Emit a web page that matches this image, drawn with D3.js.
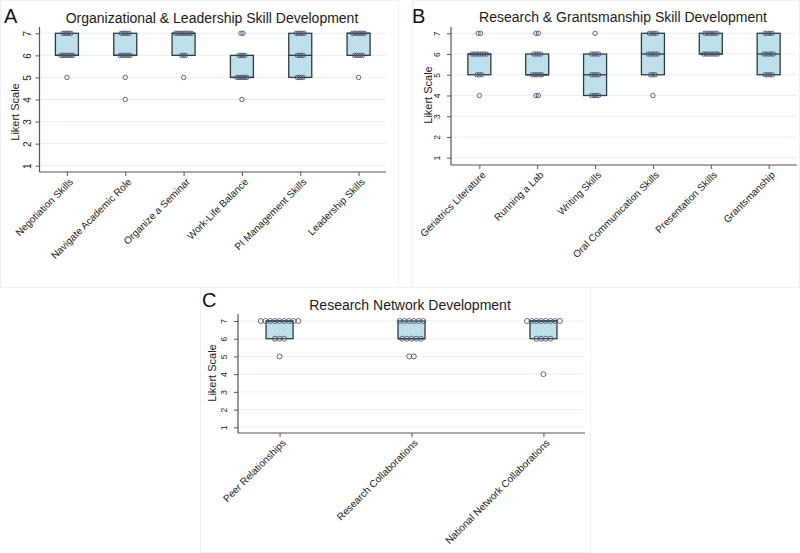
<!DOCTYPE html>
<html>
<head>
<meta charset="utf-8">
<script src="https://cdn.jsdelivr.net/npm/d3@7"></script>
<style>
  body { margin: 0; background: #fff; }
  svg { display: block; font-family: "Liberation Sans", Arial, sans-serif; }
</style>
</head>
<body>
<svg id="chart" width="800" height="553"></svg>
<script>
// Likert levels on the y axis
var levels = [1, 2, 3, 4, 5, 6, 7];

// counts of answers at Likert 1..7 for each item
var categoriesA = ["Negotiation Skills", "Navigate Academic Role", "Organize a Seminar",
    "Work-Life Balance", "PI Management Skills", "Leadership Skills"];
var countsA = [
    [0, 0, 0, 0, 1, 7, 5],
    [0, 0, 0, 1, 1, 6, 5],
    [0, 0, 0, 0, 1, 3, 9],
    [0, 0, 0, 1, 6, 4, 2],
    [0, 0, 0, 0, 4, 4, 5],
    [0, 0, 0, 0, 1, 5, 7]
];

var categoriesB = ["Geriatrics Literature", "Running a Lab", "Writing Skills",
    "Oral Communication Skills", "Presentation Skills", "Grantsmanship"];
var countsB = [
    [0, 0, 0, 1, 3, 7, 2],
    [0, 0, 0, 2, 5, 4, 2],
    [0, 0, 0, 4, 4, 4, 1],
    [0, 0, 0, 1, 3, 5, 4],
    [0, 0, 0, 0, 0, 7, 6],
    [0, 0, 0, 0, 4, 5, 4]
];

var categoriesC = ["Peer Relationships", "Research Collaborations", "National Network Collaborations"];
var countsC = [
    [0, 0, 0, 0, 1, 3, 9],
    [0, 0, 0, 0, 2, 5, 6],
    [0, 0, 0, 1, 0, 4, 8]
];

var svg = d3.select("#chart");

function expand(counts) {
    var vals = [];
    counts.forEach(function(c, i) {
        for (var k = 0; k < c; k++) vals.push(levels[i]);
    });
    return vals;
}

function drawPanel(p, categories, counts) {
    // faint panel frame
    svg.append("rect")
        .attr("x", p.frame[0]).attr("y", p.frame[1])
        .attr("width", p.frame[2]).attr("height", p.frame[3])
        .attr("fill", "none").attr("stroke", "#ebf1f4").attr("stroke-width", 1);

    var g = svg.append("g");

    var x = d3.scalePoint()
        .domain(categories)
        .range([p.left, p.right])
        .padding(p.pad);

    var y = d3.scaleLinear()
        .domain([1, 7])
        .range([p.y1, p.y7]);

    // grid
    g.selectAll(".grid").data(levels).enter().append("line")
        .attr("x1", p.left).attr("x2", p.right)
        .attr("y1", function(d) { return y(d); })
        .attr("y2", function(d) { return y(d); })
        .attr("stroke", "#e8f0f3").attr("stroke-width", 1);

    // boxes
    categories.forEach(function(cat, i) {
        var vals = expand(counts[i]).sort(d3.ascending);
        var q1 = d3.quantile(vals, 0.25),
            med = d3.quantile(vals, 0.5),
            q3 = d3.quantile(vals, 0.75);
        var cx = x(cat);
        g.append("rect")
            .attr("x", cx - p.boxW / 2).attr("width", p.boxW)
            .attr("y", y(q3)).attr("height", y(q1) - y(q3))
            .attr("fill", "#bfe0ea").attr("stroke", "#2e3b42").attr("stroke-width", 1.3);
        g.append("line")
            .attr("x1", cx - p.boxW / 2).attr("x2", cx + p.boxW / 2)
            .attr("y1", y(med)).attr("y2", y(med))
            .attr("stroke", "#2e3b42").attr("stroke-width", 1.3);

        // stacked dots, centred on the category
        counts[i].forEach(function(c, j) {
            for (var k = 0; k < c; k++) {
                g.append("circle")
                    .attr("cx", cx + (k - (c - 1) / 2) * p.gap)
                    .attr("cy", y(levels[j]))
                    .attr("r", p.r)
                    .attr("fill", "none")
                    .attr("stroke", "#505672")
                    .attr("stroke-width", 0.9);
            }
        });
    });

    // y axis
    var ya = g.append("g")
        .attr("transform", "translate(" + p.left + ",0)")
        .call(d3.axisLeft(y).tickValues(levels).tickSize(4).tickFormat(d3.format("d")));
    ya.select(".domain").remove();
    ya.selectAll(".tick line").attr("stroke", "#555");
    ya.selectAll(".tick text")
        .attr("x", null).attr("dy", null)
        .attr("transform", "translate(-" + p.tickOff + ",0) rotate(-90)")
        .attr("text-anchor", "middle")
        .attr("dy", "0.35em")
        .style("font-size", p.tickFont + "px")
        .style("font-family", "Liberation Sans, Arial, sans-serif")
        .attr("fill", "#222");
    g.append("line")
        .attr("x1", p.left).attr("x2", p.left)
        .attr("y1", p.yTop).attr("y2", p.axisY)
        .attr("stroke", "#555").attr("stroke-width", 1.2);

    // x axis
    var xa = g.append("g")
        .attr("transform", "translate(0," + p.axisY + ")")
        .call(d3.axisBottom(x).tickSize(4));
    xa.select(".domain").remove();
    xa.selectAll(".tick line").attr("stroke", "#555");
    xa.selectAll(".tick text")
        .attr("y", null).attr("dy", null)
        .attr("transform", "translate(4,8) rotate(-45)")
        .attr("text-anchor", "end")
        .attr("dy", "0.35em")
        .style("font-size", "10px")
        .style("font-family", "Liberation Sans, Arial, sans-serif")
        .attr("fill", "#222");
    g.append("line")
        .attr("x1", p.left).attr("x2", p.right)
        .attr("y1", p.axisY).attr("y2", p.axisY)
        .attr("stroke", "#555").attr("stroke-width", 1.2);

    // y title
    g.append("text")
        .attr("transform", "translate(" + p.ylabX + "," + p.ylabY + ") rotate(-90)")
        .attr("text-anchor", "middle")
        .attr("dy", "0.35em")
        .style("font-size", "11px")
        .attr("fill", "#222")
        .text("Likert Scale");

    // title and panel letter
    g.append("text")
        .attr("x", p.titleX).attr("y", p.titleY)
        .attr("text-anchor", "middle")
        .style("font-size", "14px")
        .attr("fill", "#1a1a1a")
        .text(p.title);
    g.append("text")
        .attr("x", p.letterX).attr("y", p.letterY)
        .style("font-size", "20px")
        .attr("fill", "#111")
        .text(p.letter);
}

drawPanel({
    frame: [0.5, 0.5, 398, 287],
    left: 39.5, right: 386, pad: 0.47, y7: 33.3, y1: 165.7, axisY: 172, yTop: 27,
    boxW: 23, gap: 2, r: 2.2, tickOff: 12, tickFont: 10,
    ylabX: 15, ylabY: 112,
    title: "Organizational & Leadership Skill Development", titleX: 212, titleY: 23,
    letter: "A", letterX: 4, letterY: 23
}, categoriesA, countsA);

drawPanel({
    frame: [412.5, 0.5, 387, 287],
    left: 451, right: 797, pad: 0.49, y7: 33.3, y1: 157.7, axisY: 165, yTop: 27,
    boxW: 23, gap: 2.4, r: 2.2, tickOff: 14, tickFont: 8.5,
    ylabX: 428, ylabY: 95,
    title: "Research & Grantsmanship Skill Development", titleX: 623, titleY: 22,
    letter: "B", letterX: 412, letterY: 23
}, categoriesB, countsB);

drawPanel({
    frame: [200.5, 287.5, 390, 265],
    left: 238, right: 585, pad: 0.315, y7: 321, y1: 427.3, axisY: 433, yTop: 314,
    boxW: 27, gap: 4.7, r: 2.5, tickOff: 14, tickFont: 8.5,
    ylabX: 212, ylabY: 373,
    title: "Research Network Development", titleX: 410, titleY: 310,
    letter: "C", letterX: 202, letterY: 307
}, categoriesC, countsC);
</script>
</body>
</html>
